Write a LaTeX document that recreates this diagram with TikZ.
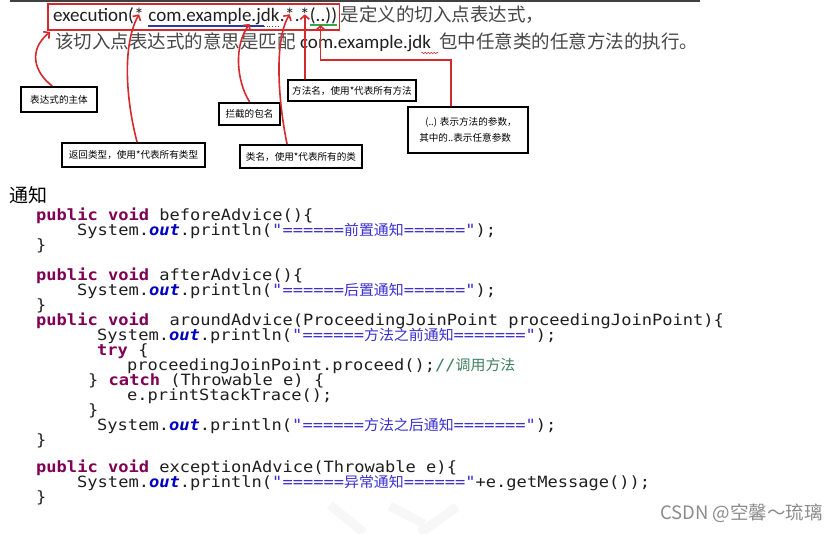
\documentclass[tikz,border=0pt]{standalone}
\usepackage{fontspec}
\setmainfont{Carlito}
\setmonofont[FakeStretch=1.1]{DejaVu Sans Mono}
\newfontfamily\cjk{Noto Sans CJK SC}
\usetikzlibrary{arrows.meta,decorations.pathmorphing}

\definecolor{kwpurple}{HTML}{7F0055}
\definecolor{fieldblue}{HTML}{0000C0}
\definecolor{strblue}{HTML}{3A30D0}
\definecolor{cmtgreen}{HTML}{3F7F5F}
\definecolor{markred}{HTML}{D42A2E}
\definecolor{lineblue}{HTML}{2B3A9E}
\definecolor{markgreen}{HTML}{2FA84F}

% code colouring
\newcommand{\kw}[1]{\textcolor{kwpurple}{\textbf{#1}}}
\newcommand{\fld}[1]{\textcolor{fieldblue}{\textbf{\itshape #1}}}
\newcommand{\lit}[1]{\textcolor{strblue}{#1}}
\newcommand{\cmt}[1]{\textcolor{cmtgreen}{#1}}
\newcommand{\cjkcode}[1]{{\cjk\fontsize{14.5}{14.5}\selectfont\addfontfeature{FakeStretch=1.03}#1}}

\begin{document}
\begin{tikzpicture}[x=1pt, y=-1pt]
    % Styles
    \tikzset{
        expr/.style={anchor=base west, inner sep=0pt, text=black!88, font=\fontsize{19}{19}\selectfont},
        cntext/.style={anchor=base west, inner sep=0pt, text=black!72, font=\cjk\fontsize{18.5}{18.5}\selectfont},
        code/.style={anchor=base west, inner sep=0pt, text=black!88, font=\ttfamily\fontsize{15.5}{15}\selectfont},
        notebox/.style={draw=black, line width=2.4pt, fill=white, inner sep=0pt, font=\cjk\fontsize{9.6}{16}\selectfont},
        pointer/.style={draw=markred, line width=1.6pt, line cap=round, -{Straight Barb[length=4pt, width=9pt]}},
        redframe/.style={draw=markred, line width=1.6pt},
        wmstroke/.style={draw=gray!6, line width=9pt},
    }
    \useasboundingbox[fill=white] (0,0) rectangle (837,533);

    % Top rule
    \draw[black!75, line width=1.5pt] (10,1) -- (700,1);

    % Pointcut expression, piece by piece
    \node[expr] (exec) at (53,21) {execution(};
    \node[expr] (ret) at (exec.base east) {*};
    \node[expr] (pkg) at ([shift={(4.3,0)}]ret.base east) {com.example.jdk};
    \node[expr] (dota) at (pkg.base east) {.};
    \node[expr] (cls) at (dota.base east) {*};
    \node[expr] (dotb) at (cls.base east) {.};
    \node[expr] (mth) at (dotb.base east) {*};
    \node[expr] (args) at (mth.base east) {(..)};
    \node[expr] (close) at (args.base east) {)};
    \node[cntext] (exprnote) at ([shift={(3,0)}]close.base east) {是定义的切入点表达式，};

    % Second line
    \node[cntext] (desc1) at (55,48) {该切入点表达式的意思是匹配};
    \node[expr] (desc2) at ([shift={(4,0)}]desc1.base east) {com.example.jdk};
    \node[cntext] (desc3) at ([shift={(8,0)}]desc2.base east) {包中任意类的任意方法的执行。};

    % Marks on the expression
    \coordinate (frameNW) at ([shift={(-5,-17)}]exec.base west);
    \coordinate (frameSE) at ([shift={(2,9)}]close.base east);
    \coordinate (frameSW) at (frameNW |- frameSE);
    \draw[redframe] (frameNW) rectangle (frameSE);
    \draw[lineblue, line width=1.4pt] ([shift={(0,5)}]pkg.base west) -- ([shift={(-16,5)}]pkg.base east);
    \draw[black!70, line width=0.9pt, dotted] ([shift={(-16,5)}]pkg.base east) -- ([shift={(1,5)}]pkg.base east);
    \draw[markgreen, line width=2pt] ([shift={(0,4)}]args.base west) -- ([shift={(0,4)}]close.base east);
    \draw[markred, line width=0.5pt, decorate, decoration={snake, amplitude=0.7pt, segment length=3pt}]
        ([shift={(-10,5)}]desc2.base east) -- ([shift={(7,5)}]desc2.base east);

    % Note boxes
    \node[notebox, minimum width=76, minimum height=25] (bodybox) at (59,99.5) {表达式的主体};
    \node[notebox, minimum width=143, minimum height=24] (retbox) at (133.5,155) {返回类型，使用*代表所有类型};
    \node[notebox, minimum width=61, minimum height=22] (pkgbox) at (249.5,114) {拦截的包名};
    \node[notebox, minimum width=122, minimum height=23] (clsbox) at (301,156.5) {类名，使用*代表所有的类};
    \node[notebox, minimum width=128, minimum height=21] (mthbox) at (352,90.5) {方法名，使用*代表所有方法};
    \node[notebox, minimum width=120, minimum height=46, align=left] (argbox) at (468,130)
        {\hspace{6pt}(..) 表示方法的参数，\\其中的..表示任意参数};

    % Arrows from the notes
    \coordinate (argbend) at (args.south |- 0,60);
    \draw[pointer] ([shift={(-7,0)}]bodybox.north) .. controls (34,72) and (28,50) .. ([shift={(2,2)}]frameSW);
    \draw[pointer] ([shift={(3.5,0)}]retbox.north) .. controls (126,100) and (122,45) .. (ret.center);
    \draw[pointer] (pkgbox.north) .. controls (236,80) and (234,45) .. ([shift={(-30,3)}]pkg.base east);
    \draw[pointer] ([shift={(-14,0)}]clsbox.north) .. controls (278,100) and (274,40) .. (cls.center);
    \draw[pointer] (mth |- mthbox.north) -- (mth.center);
    \draw[pointer] ([shift={(-17,0)}]argbox.north) |- (argbend) -- ([shift={(0,4)}]args.base);

    % Heading
    \node[anchor=base west, inner sep=0pt, font=\cjk\fontsize{19}{19}\selectfont] (advice) at (9,202) {通知};

    % beforeAdvice
    \node[code] (before1) at (36,220) {\kw{public} \kw{void} beforeAdvice()\{};
    \node[code] (before2) at (77,235) {System.\fld{out}.println(\lit{"======\cjkcode{前置通知}======"});};
    \node[code] (before3) at (36,250) {\}};

    % afterAdvice
    \node[code] (after1) at (36,280) {\kw{public} \kw{void} afterAdvice()\{};
    \node[code] (after2) at (77,295) {System.\fld{out}.println(\lit{"======\cjkcode{后置通知}======"});};
    \node[code] (after3) at (36,310) {\}};

    % aroundAdvice
    \node[code] (around1) at (36,325) {\kw{public} \kw{void}\ \ aroundAdvice(ProceedingJoinPoint proceedingJoinPoint)\{};
    \node[code] (around2) at (97,340) {System.\fld{out}.println(\lit{"======\cjkcode{方法之前通知}======="});};
    \node[code] (around3) at (97,355) {\kw{try} \{};
    \node[code] (around4) at (127,370) {proceedingJoinPoint.proceed();\cmt{//\cjkcode{调用方法}}};
    \node[code] (around5) at (88,385) {\} \kw{catch} (Throwable e) \{};
    \node[code] (around6) at (127,400) {e.printStackTrace();};
    \node[code] (around7) at (88,415) {\}};
    \node[code] (around8) at (97,430) {System.\fld{out}.println(\lit{"======\cjkcode{方法之后通知}======="});};
    \node[code] (around9) at (36,445) {\}};

    % exceptionAdvice
    \node[code] (except1) at (36,472) {\kw{public} \kw{void} exceptionAdvice(Throwable e)\{};
    \node[code] (except2) at (77,487) {System.\fld{out}.println(\lit{"======\cjkcode{异常通知}======"}+e.getMessage());};
    \node[code] (except3) at (36,502) {\}};

    % Watermark
    \draw[wmstroke] (330,505) -- (364,533);
    \draw[wmstroke] (390,506) -- (424,524);
    \draw[wmstroke] (457,507) -- (420,533);
    \node[anchor=base east, inner sep=0pt, text=black!45, font=\cjk\fontsize{18.5}{18.5}\selectfont] (wm) at (823,519) {CSDN @空馨～琉璃};
\end{tikzpicture}
\end{document}
